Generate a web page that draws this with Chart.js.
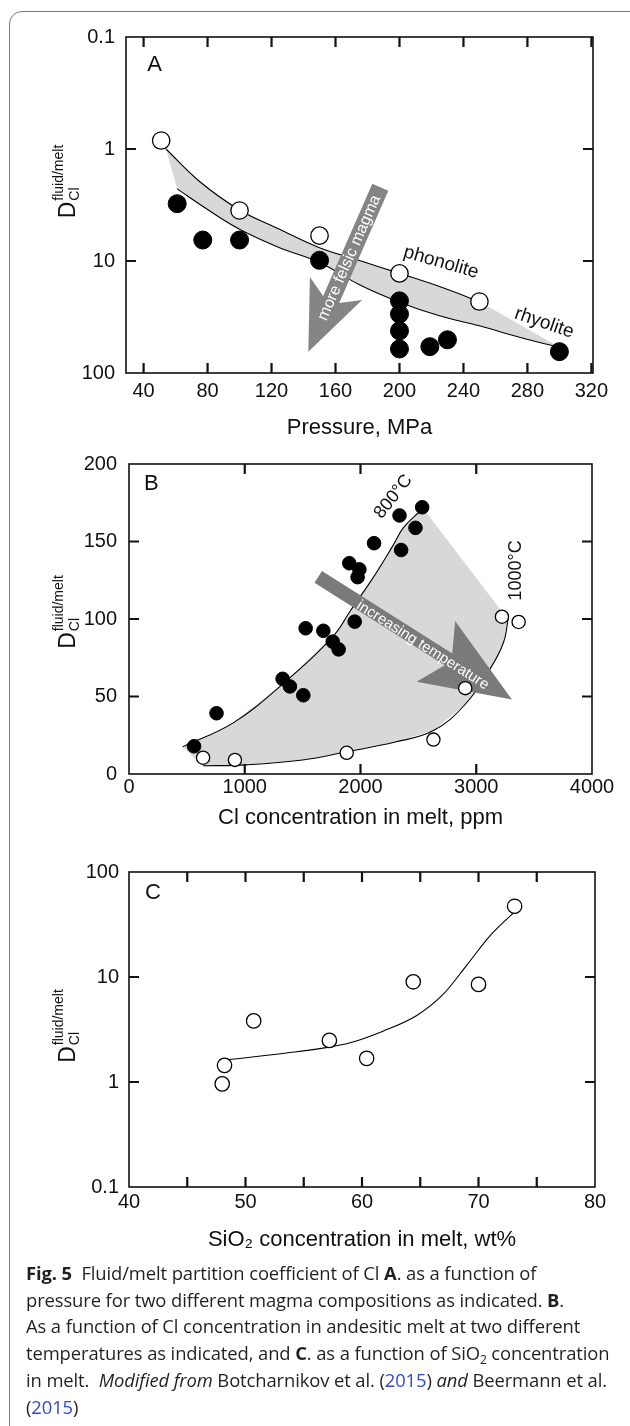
<!DOCTYPE html>
<html>
<head>
<meta charset="utf-8">
<script src="https://cdn.jsdelivr.net/npm/chart.js@4.4.1/dist/chart.umd.min.js"></script>
<style>
  html, body { margin: 0; padding: 0; background: #fff; }
  body { width: 630px; height: 1426px; position: relative; overflow: hidden; }
  .frame { position: absolute; left: 9px; top: 11px; width: 660px; height: 1440px;
           border: 1.3px solid #7a7a7a; border-radius: 13px; }
  canvas { position: absolute; left: 0; }
  #caption { position: absolute; left: 26px; top: 1260px; font-family: 'Open Sans', sans-serif;
             font-size: 18.4px; line-height: 26.7px; color: #231f20; white-space: nowrap; letter-spacing: -0.1px; }
  #caption b { font-weight: 700; }
  #caption a { color: #2f48d6; text-decoration: none; }
  #caption sub { font-size: 12px; vertical-align: -4px; line-height: 0; }
</style>
</head>
<body>
<div class="frame"></div>
<canvas id="chartA" width="630" height="450" style="top:0px"></canvas>
<canvas id="chartB" width="630" height="400" style="top:440px"></canvas>
<canvas id="chartC" width="630" height="410" style="top:850px"></canvas>
<div id="caption">
  <div><b>Fig. 5</b>&nbsp; Fluid/melt partition coefficient of Cl <b>A</b>. as a function of</div>
  <div>pressure for two different magma compositions as indicated. <b>B</b>.</div>
  <div>As a function of Cl concentration in andesitic melt at two different</div>
  <div>temperatures as indicated, and <b>C</b>. as a function of SiO<sub>2</sub> concentration</div>
  <div>in melt.&nbsp; <i>Modified from</i> Botcharnikov et al. (<a>2015</a>) <i>and</i> Beermann et al.</div>
  <div>(<a>2015</a>)</div>
</div>
<script>
const FONT = "'Liberation Sans', Arial, Helvetica, sans-serif";

// ---- Panel A: D vs pressure ----
const pressureOpen = [51, 100, 150, 200, 250];
const dOpenA = [0.84, 3.54, 5.94, 12.9, 23];
const pressureFilled = [61, 77, 100, 150, 200, 200, 200, 200, 219, 230, 300];
const dFilledA = [3.08, 6.5, 6.5, 9.86, 22.7, 29.8, 42, 61, 58.2, 50.5, 64.5];
const phonoliteX = [54, 75, 100, 125, 150, 175, 200, 225, 250];
const phonoliteY = [1.0, 1.95, 3.5, 5.2, 7.6, 9.9, 12.9, 16.9, 23];
const rhyoliteX = [61, 80, 100, 125, 150, 175, 200, 225, 250, 275, 300];
const rhyoliteY = [2.27, 3.47, 5.2, 7.6, 10.3, 16.3, 23.3, 30.8, 37.9, 48, 59];
const pressureTicks = [40, 80, 120, 160, 200, 240, 280, 320];
const logTicks = [0.1, 1, 10, 100];

// ---- Panel B: D vs Cl in melt ----
const clOpen = [640, 915, 1881, 2630, 2905, 3222, 3366];
const dOpenB = [10.5, 9.1, 13.7, 22.2, 55.4, 101.5, 98.1];
const clFilled = [562, 756, 1327, 1390, 1506, 1526, 1679, 1760, 1811, 1950, 1903, 1990, 1975, 2117, 2351, 2337, 2475, 2533];
const dFilledB = [17.9, 39.2, 61.4, 56.5, 50.8, 94, 92.4, 85.4, 80.4, 98.3, 136, 132, 127, 148.9, 144.5, 166.8, 158.8, 172.1];
const t800X = [462, 900, 1327, 1765, 1910, 2112, 2285, 2371, 2520];
const t800Y = [17.5, 33, 58, 89, 105, 127, 148, 159, 170];
const t1000X = [640, 1016, 1500, 1881, 2300, 2630, 2905, 3121, 3236, 3279];
const t1000Y = [5.3, 5.9, 9, 14.3, 20.6, 28, 45, 68, 85, 102];
const shadeCornerBX = [2545, 3230];
const shadeCornerBY = [171, 104];
const clTicks = [0, 1000, 2000, 3000, 4000];
const dTicksB = [0, 50, 100, 150, 200];

// ---- Panel C: D vs SiO2 ----
const sio2 = [48.2, 48.0, 50.7, 57.2, 60.4, 64.4, 70.0, 73.1];
const dC = [1.44, 0.96, 3.82, 2.49, 1.68, 9.0, 8.5, 47.2];
const fitCX = [48.3, 53.5, 57.2, 58.9, 61.8, 64.7, 67.0, 69.0, 71.0, 73.0];
const fitCY = [1.62, 1.89, 2.15, 2.35, 3.05, 4.3, 6.9, 13, 24.8, 40.9];
const sio2Ticks = [40, 50, 60, 70, 80];

const xy = (xs, ys) => xs.map((v, i) => ({ x: v, y: ys[i] }));
const rev = a => a.slice().reverse();

function drawArrow(chart, a) {
  const { ctx, scales: { x, y } } = chart;
  const tx = x.getPixelForValue(a.tail[0]), ty = y.getPixelForValue(a.tail[1]);
  const px = x.getPixelForValue(a.tip[0]), py = y.getPixelForValue(a.tip[1]);
  const len = Math.hypot(px - tx, py - ty);
  const ux = (px - tx) / len, uy = (py - ty) / len;
  const nx = -uy, ny = ux;
  const w = a.shaft / 2, base = len - a.headLen, neck = base + a.notch;
  const pt = (s, o) => [tx + ux * s + nx * o, ty + uy * s + ny * o];
  const poly = [pt(0, w), pt(neck, w), pt(base, a.head), pt(len, 0), pt(base, -a.head), pt(neck, -w), pt(0, -w)];
  ctx.save();
  ctx.fillStyle = a.color;
  ctx.beginPath();
  poly.forEach((p, i) => i ? ctx.lineTo(p[0], p[1]) : ctx.moveTo(p[0], p[1]));
  ctx.closePath();
  ctx.fill();
  const c = pt(a.textAt, a.textShift);
  let ang = Math.atan2(uy, ux);
  if (ux < 0) ang += Math.PI;
  ctx.translate(c[0], c[1]);
  ctx.rotate(ang);
  ctx.fillStyle = '#fff';
  ctx.font = a.textSize + 'px ' + FONT;
  ctx.textAlign = 'center';
  ctx.textBaseline = 'middle';
  ctx.fillText(a.text, 0, 0);
  ctx.restore();
}

function drawYTitle(ctx, bx, cy) {
  ctx.save();
  ctx.translate(bx, cy);
  ctx.rotate(-Math.PI / 2);
  ctx.fillStyle = '#111';
  ctx.textBaseline = 'alphabetic';
  ctx.textAlign = 'left';
  ctx.font = '23px ' + FONT;
  const wD = ctx.measureText('D').width;
  ctx.font = '14px ' + FONT;
  const wSup = ctx.measureText('fluid/melt').width;
  const total = wD + 1 + wSup;
  const s = -total / 2;
  ctx.font = '23px ' + FONT;
  ctx.fillText('D', s, 0);
  ctx.font = '14px ' + FONT;
  ctx.fillText('Cl', s + wD + 1, 4);
  ctx.fillText('fluid/melt', s + wD + 1, -12);
  ctx.restore();
}

function figurePlugin(spec) {
  return {
    id: 'figure' + spec.name,
    beforeDatasetDraw(chart, args) {
      if (spec.arrow && args.index === spec.arrowBefore) drawArrow(chart, spec.arrow);
    },
    afterDatasetsDraw(chart) {
      const { ctx, chartArea: a, scales: { x, y } } = chart;
      ctx.save();
      ctx.strokeStyle = '#111';
      ctx.lineWidth = 1.6;
      ctx.strokeRect(a.left, a.top, a.width, a.height);
      ctx.lineWidth = 2.2;
      ctx.beginPath();
      spec.xMarks.forEach(v => {
        const p = x.getPixelForValue(v);
        ctx.moveTo(p, a.bottom); ctx.lineTo(p, a.bottom - 10);
        ctx.moveTo(p, a.top); ctx.lineTo(p, a.top + 10);
      });
      spec.yMarks.forEach(v => {
        const p = y.getPixelForValue(v);
        ctx.moveTo(a.left, p); ctx.lineTo(a.left + 10, p);
        ctx.moveTo(a.right, p); ctx.lineTo(a.right - 10, p);
      });
      ctx.stroke();
      ctx.fillStyle = '#111';
      ctx.textAlign = 'center';
      ctx.textBaseline = 'middle';
      spec.labels.forEach(l => {
        ctx.save();
        ctx.translate(x.getPixelForValue(l.x), y.getPixelForValue(l.y));
        ctx.rotate(l.rot * Math.PI / 180);
        ctx.font = l.size + 'px ' + FONT;
        ctx.fillText(l.text, 0, 0);
        ctx.restore();
      });
      ctx.restore();
      drawYTitle(ctx, spec.yTitle[0], spec.yTitle[1]);
    }
  };
}

function makeChart(id, spec) {
  const fontTick = { family: FONT, size: 20 };
  const chart = new Chart(document.getElementById(id), {
    type: 'scatter',
    data: { datasets: spec.datasets },
    options: {
      responsive: false,
      animation: false,
      events: [],
      layout: { padding: spec.padding },
      plugins: { legend: { display: false }, tooltip: { enabled: false } },
      scales: {
        x: {
          type: 'linear', position: 'bottom', min: spec.xMin, max: spec.xMax,
          grid: { display: false, drawTicks: false }, border: { display: false },
          afterBuildTicks: s => { s.ticks = spec.xTicks.map(v => ({ value: v })); },
          afterFit: s => { s.height = spec.xHeight; },
          ticks: { font: fontTick, color: '#111', padding: spec.xPad, autoSkip: false, maxRotation: 0,
                   callback: v => String(v) },
          title: { display: true, text: spec.xTitle, color: '#111',
                   font: { family: FONT, size: 22 }, padding: { top: 0, bottom: spec.titlePad } }
        },
        y: {
          type: spec.yType, position: 'left', min: spec.yMin, max: spec.yMax, reverse: spec.yReverse,
          grid: { display: false, drawTicks: false }, border: { display: false },
          afterBuildTicks: s => { s.ticks = spec.yTicks.map(v => ({ value: v })); },
          afterFit: s => { s.width = spec.yWidth; },
          ticks: { font: fontTick, color: '#111', padding: spec.yPad, autoSkip: false,
                   callback: v => String(v) }
        }
      }
    },
    plugins: [figurePlugin(spec)]
  });
  chart.update();
  return chart;
}

const openStyle = r => ({ pointRadius: r, pointBackgroundColor: '#fff', pointBorderColor: '#000', pointBorderWidth: 1.3, order: 0 });
const filledStyle = r => ({ pointRadius: r, pointBackgroundColor: '#000', pointBorderColor: '#000', pointBorderWidth: 1, order: 1 });
const curveStyle = { showLine: true, pointRadius: 0, borderColor: '#000', borderWidth: 1.1, tension: 0.4, order: 2 };
const shadeStyle = { showLine: true, pointRadius: 0, borderColor: 'rgba(0,0,0,0)', borderWidth: 1,
                     backgroundColor: '#d8d8d8', fill: 'shape', tension: 0, order: 3 };

// Panel A
makeChart('chartA', {
  name: 'A',
  datasets: [
    Object.assign({ data: xy(pressureOpen, dOpenA) }, openStyle(8.7)),
    Object.assign({ data: xy(pressureFilled, dFilledA) }, filledStyle(9)),
    Object.assign({ data: xy(phonoliteX, phonoliteY) }, curveStyle),
    Object.assign({ data: xy(rhyoliteX, rhyoliteY) }, curveStyle),
    Object.assign({ data: xy(phonoliteX.concat(rev(rhyoliteX)), phonoliteY.concat(rev(rhyoliteY))) }, shadeStyle)
  ],
  padding: { left: 0, right: 37, top: 37, bottom: 0 },
  xMin: 29, xMax: 321, xTicks: pressureTicks, xHeight: 77, xPad: 6.5, xTitle: 'Pressure, MPa', titlePad: 9,
  yType: 'logarithmic', yMin: 0.1, yMax: 100, yReverse: true, yTicks: logTicks, yWidth: 126, yPad: 11,
  xMarks: pressureTicks, yMarks: [1, 10],
  arrowBefore: 1,
  arrow: { tail: [188, 2.2], tip: [143, 64.5], shaft: 17.5, head: 28.5, headLen: 69, notch: 12,
           color: '#858585', text: 'more felsic magma', textSize: 16, textAt: 77, textShift: 0 },
  labels: [
    { text: 'A', x: 46.9, y: 0.178, rot: 0, size: 22 },
    { text: 'phonolite', x: 226, y: 10.3, rot: 16, size: 19 },
    { text: 'rhyolite', x: 290.5, y: 35.8, rot: 19, size: 19 }
  ],
  yTitle: [75, 181.5]
});

// Panel B
makeChart('chartB', {
  name: 'B',
  datasets: [
    Object.assign({ data: xy(clOpen, dOpenB) }, openStyle(6.6)),
    Object.assign({ data: xy(clFilled, dFilledB) }, filledStyle(6.8)),
    Object.assign({ data: xy(t800X, t800Y) }, curveStyle),
    Object.assign({ data: xy(t1000X, t1000Y) }, curveStyle),
    Object.assign({ data: xy(t800X.concat(shadeCornerBX, rev(t1000X)), t800Y.concat(shadeCornerBY, rev(t1000Y))) }, shadeStyle)
  ],
  padding: { left: 0, right: 38, top: 18, bottom: 0 },
  xMin: 0, xMax: 4000, xTicks: clTicks, xHeight: 66, xPad: 1.5, xTitle: 'Cl concentration in melt, ppm', titlePad: 8.5,
  yType: 'linear', yMin: 0, yMax: 200, yReverse: false, yTicks: dTicksB, yWidth: 129, yPad: 12,
  xMarks: [1000, 2000, 3000], yMarks: [50, 100, 150],
  arrowBefore: 1,
  arrow: { tail: [1635, 127.2], tip: [3308, 48.1], shaft: 14, head: 36, headLen: 90, notch: 15,
           color: '#7a7a7a', text: 'increasing temperature', textSize: 15, textAt: 125, textShift: 2 },
  labels: [
    { text: 'B', x: 194, y: 187.3, rot: 0, size: 22 },
    { text: '800\u00b0C', x: 2284, y: 178.9, rot: -52, size: 18 },
    { text: '1000\u00b0C', x: 3341, y: 131.4, rot: -90, size: 18 }
  ],
  yTitle: [75, 172]
});

// Panel C
makeChart('chartC', {
  name: 'C',
  datasets: [
    Object.assign({ data: xy(sio2, dC) }, openStyle(7.2)),
    Object.assign({ data: xy(fitCX, fitCY) }, curveStyle, { cubicInterpolationMode: 'monotone' })
  ],
  padding: { left: 0, right: 35, top: 15, bottom: 0 },
  xMin: 40, xMax: 80, xTicks: sio2Ticks, xHeight: 73, xPad: 3.5, xTitle: 'SiO\u2082 concentration in melt, wt%', titlePad: 6.5,
  yType: 'logarithmic', yMin: 0.1, yMax: 100, yReverse: false, yTicks: logTicks, yWidth: 129, yPad: 10,
  xMarks: [45, 50, 55, 60, 65, 70, 75], yMarks: [1, 10],
  labels: [
    { text: 'C', x: 42.06, y: 62.8, rot: 0, size: 22 }
  ],
  yTitle: [75, 176]
});
</script>
</body>
</html>
